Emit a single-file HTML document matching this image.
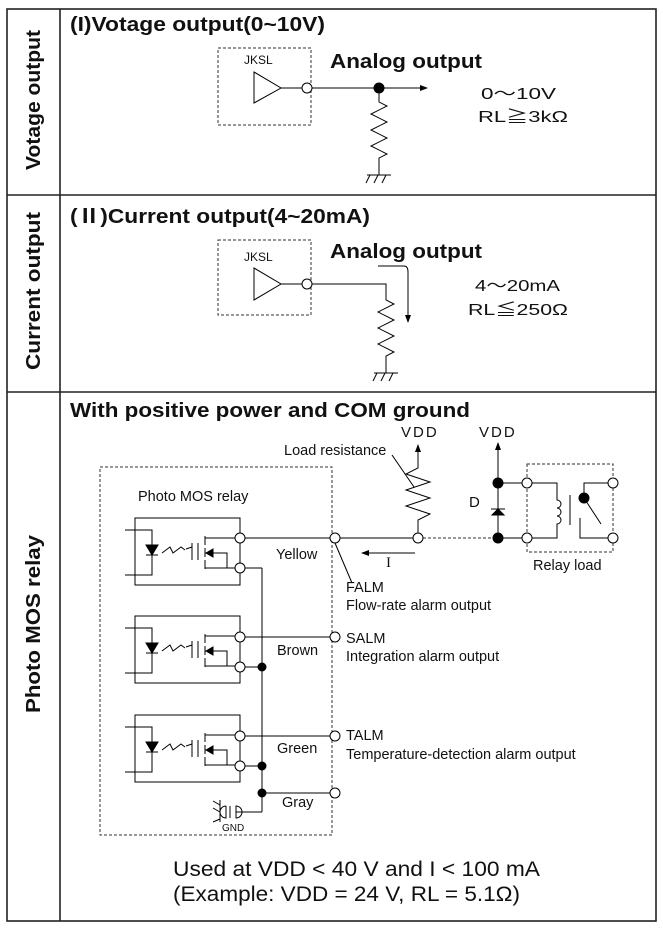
<!DOCTYPE html>
<html><head><meta charset="utf-8"><style>
html,body{margin:0;padding:0;background:#fff;}
svg{display:block;font-family:"Liberation Sans","Noto Sans CJK JP",sans-serif;}
</style></head><body>
<svg width="663" height="929" viewBox="0 0 663 929" xmlns="http://www.w3.org/2000/svg">
<defs>
<marker id="ah" markerWidth="8" markerHeight="8" refX="7" refY="4" orient="auto" markerUnits="userSpaceOnUse"><path d="M0,1 L8,4 L0,7 Z" fill="#000"/></marker>
</defs>
<g fill="none" stroke="#222" stroke-width="1.6">
<rect x="7" y="9" width="649" height="912"/>
<line x1="60" y1="9" x2="60" y2="921"/>
<line x1="7" y1="195" x2="656" y2="195"/>
<line x1="7" y1="392" x2="656" y2="392"/>
</g>
<g font-weight="bold" font-size="20" fill="#111" text-anchor="middle">
<text transform="translate(40,100) rotate(-90)" textLength="140" lengthAdjust="spacingAndGlyphs">Votage output</text>
<text transform="translate(40,291) rotate(-90)" textLength="158" lengthAdjust="spacingAndGlyphs">Current output</text>
<text transform="translate(40,624) rotate(-90)" textLength="178" lengthAdjust="spacingAndGlyphs">Photo MOS relay</text>
</g>
<g font-weight="bold" fill="#111">
<text x="70" y="31" font-size="20" textLength="255" lengthAdjust="spacingAndGlyphs">(I)Votage output(0~10V)</text>
<text x="70" y="223" font-size="20" textLength="300" lengthAdjust="spacingAndGlyphs">(Ⅱ)Current output(4~20mA)</text>
<text x="330" y="68" font-size="20" textLength="152" lengthAdjust="spacingAndGlyphs">Analog output</text>
<text x="330" y="258" font-size="20" textLength="152" lengthAdjust="spacingAndGlyphs">Analog output</text>
<text x="70" y="417" font-size="20" textLength="400" lengthAdjust="spacingAndGlyphs">With positive power and COM ground</text>
</g>
<!-- section 1 -->
<g stroke="#333" fill="none" stroke-width="1">
<rect x="218" y="48" width="93" height="77" stroke-dasharray="3,2"/>
<rect x="218" y="240" width="93" height="75" stroke-dasharray="3,2"/>
</g>
<g stroke="#000" fill="none" stroke-width="1">
<path d="M254,72 L254,103 L281,88 Z"/>
<line x1="281" y1="88" x2="302" y2="88"/>
<line x1="312" y1="88" x2="427" y2="88" marker-end="url(#ah)"/>
<path d="M379,88 V102 L387,106 L371,114 L387,122 L371,130 L387,138 L371,146 L387,154 L379,158 V175"/>
<path d="M367,175 H391 M370,175 L366,183 M378,175 L374,183 M386,175 L382,183"/>
<circle cx="307" cy="88" r="5" fill="#fff"/>
<circle cx="379" cy="88" r="5" fill="#000"/>
<path d="M254,268 L254,300 L281,284 Z"/>
<line x1="281" y1="284" x2="302" y2="284"/>
<path d="M312,284 H386 V300 L394,304 L378,312 L394,320 L378,328 L394,336 L378,344 L394,352 L386,356 V373"/>
<path d="M374,373 H398 M377,373 L373,381 M385,373 L381,381 M393,373 L389,381"/>
<circle cx="307" cy="284" r="5" fill="#fff"/>
<path d="M378,266 H404 Q408,266 408,272 V322" marker-end="url(#ah)"/>
</g>
<g font-size="12" fill="#111">
<text x="244" y="64">JKSL</text>
<text x="244" y="261">JKSL</text>
</g>
<g font-size="16" fill="#111">
<text x="481" y="99" textLength="75" lengthAdjust="spacingAndGlyphs">0～10V</text>
<text x="478" y="122" textLength="90" lengthAdjust="spacingAndGlyphs">RL≧3kΩ</text>
<text x="475" y="291" textLength="85" lengthAdjust="spacingAndGlyphs">4～20mA</text>
<text x="468" y="315" textLength="100" lengthAdjust="spacingAndGlyphs">RL≦250Ω</text>
</g>
<!-- section 3 -->
<g stroke="#333" fill="none" stroke-width="1">
<rect x="100" y="467" width="232" height="368" stroke-dasharray="3,2"/>
<rect x="527" y="464" width="86" height="88" stroke-dasharray="3,2"/>
<line x1="423" y1="538" x2="498" y2="538" stroke-dasharray="3,2"/>
</g>
<g stroke="#000" fill="none" stroke-width="1">
<g id="r1">
<rect x="135" y="518" width="105" height="67"/>
<path d="M125,530 H152 V575 H125"/>
<path d="M146,545 L158,545 L152,555 Z M146,555 H158" fill="#000"/>
<path d="M162,553 L170,547 L173,553 L181,547 L185,550" />
<path d="M186,549 L192,547"/>
<path d="M192,543 V560 M198,543 V560 M205,536 V545 M205,548 V557 M205,560 V569"/>
<path d="M205,538 H235 M205,568 H235 M205,553 H227 V568"/>
<path d="M206,553 L213,549 L213,557 Z" fill="#000"/>
</g>
<use href="#r1" y="98"/>
<use href="#r1" y="197"/>
<line x1="245" y1="538" x2="330" y2="538"/>
<line x1="245" y1="568" x2="262" y2="568"/>
<line x1="245" y1="637" x2="330" y2="637"/>
<line x1="245" y1="667" x2="262" y2="667"/>
<line x1="245" y1="736" x2="330" y2="736"/>
<line x1="245" y1="766" x2="262" y2="766"/>
<line x1="262" y1="568" x2="262" y2="812"/>
<line x1="262" y1="793" x2="330" y2="793"/>
<path d="M262,812 H236"/>
<path d="M236,806 A6,6 0 0 1 236,818 Z M230,806 V818 M226,806 V818 A6,6 0 0 1 226,806"/>
<path d="M220,800 V822 M220,805 L213,801 M220,812 L213,808 M220,819 L213,822"/>
<circle cx="240" cy="538" r="5" fill="#fff"/><circle cx="240" cy="568" r="5" fill="#fff"/>
<circle cx="240" cy="637" r="5" fill="#fff"/><circle cx="240" cy="667" r="5" fill="#fff"/>
<circle cx="240" cy="736" r="5" fill="#fff"/><circle cx="240" cy="766" r="5" fill="#fff"/>
<circle cx="262" cy="667" r="4" fill="#000"/><circle cx="262" cy="766" r="4" fill="#000"/><circle cx="262" cy="793" r="4" fill="#000"/>
<line x1="340" y1="538" x2="413" y2="538"/>
<line x1="335" y1="543" x2="352" y2="583"/>
<circle cx="335" cy="538" r="5" fill="#fff"/>
<circle cx="335" cy="637" r="5" fill="#fff"/>
<circle cx="335" cy="736" r="5" fill="#fff"/>
<circle cx="335" cy="793" r="5" fill="#fff"/>
<path d="M418,533 V520 L430,514 L406,506 L430,498 L406,490 L430,482 L406,474 L418,468 V445" marker-end="url(#ah)"/>
<line x1="392" y1="455" x2="414" y2="487"/>
<circle cx="418" cy="538" r="5" fill="#fff"/>
<line x1="415" y1="553" x2="362" y2="553" marker-end="url(#ah)"/>
<path d="M498,538 V443" marker-end="url(#ah)"/>
<path d="M491,509 H505 M492,515 L504,515 L498,509 Z" fill="#000"/>
<circle cx="498" cy="483" r="5" fill="#000"/><circle cx="498" cy="538" r="5" fill="#000"/>
<line x1="498" y1="483" x2="522" y2="483"/>
<line x1="498" y1="538" x2="522" y2="538"/>
<path d="M532,483 H557 V500 A4,4 0 0 1 557,508 A4,4 0 0 1 557,516 A4,4 0 0 1 557,524 V538 H532"/>
<line x1="570" y1="495" x2="570" y2="525"/>
<path d="M608,483 H584 V498 M584,498 L601,524 M580,518 V538 H608"/>
<circle cx="584" cy="498" r="5" fill="#000"/>
<circle cx="527" cy="483" r="5" fill="#fff"/><circle cx="527" cy="538" r="5" fill="#fff"/>
<circle cx="613" cy="483" r="5" fill="#fff"/><circle cx="613" cy="538" r="5" fill="#fff"/>
</g>
<g font-size="14.5" fill="#111">
<text x="138" y="501">Photo MOS relay</text>
<text x="284" y="455">Load resistance</text>
<text x="276" y="559">Yellow</text>
<text x="277" y="655">Brown</text>
<text x="277" y="753">Green</text>
<text x="282" y="807">Gray</text>
<text x="346" y="592">FALM</text>
<text x="346" y="610">Flow-rate alarm output</text>
<text x="346" y="643">SALM</text>
<text x="346" y="661">Integration alarm output</text>
<text x="346" y="740">TALM</text>
<text x="346" y="759">Temperature-detection alarm output</text>
<text x="533" y="570">Relay load</text>
<text x="222" y="831" font-size="10">GND</text>
<text x="469" y="507" font-size="15">D</text>
<text x="386" y="567" font-size="15" font-family="Liberation Serif,serif">I</text>
<text x="401" y="437" font-size="15" letter-spacing="2">VDD</text>
<text x="479" y="437" font-size="15" letter-spacing="2">VDD</text>
</g>
<g font-size="21" fill="#111">
<text x="173" y="876" textLength="367" lengthAdjust="spacingAndGlyphs">Used at VDD &lt; 40 V and I &lt; 100 mA</text>
<text x="173" y="901" textLength="347" lengthAdjust="spacingAndGlyphs">(Example: VDD = 24 V, RL = 5.1Ω)</text>
</g>
</svg>
</body></html>
